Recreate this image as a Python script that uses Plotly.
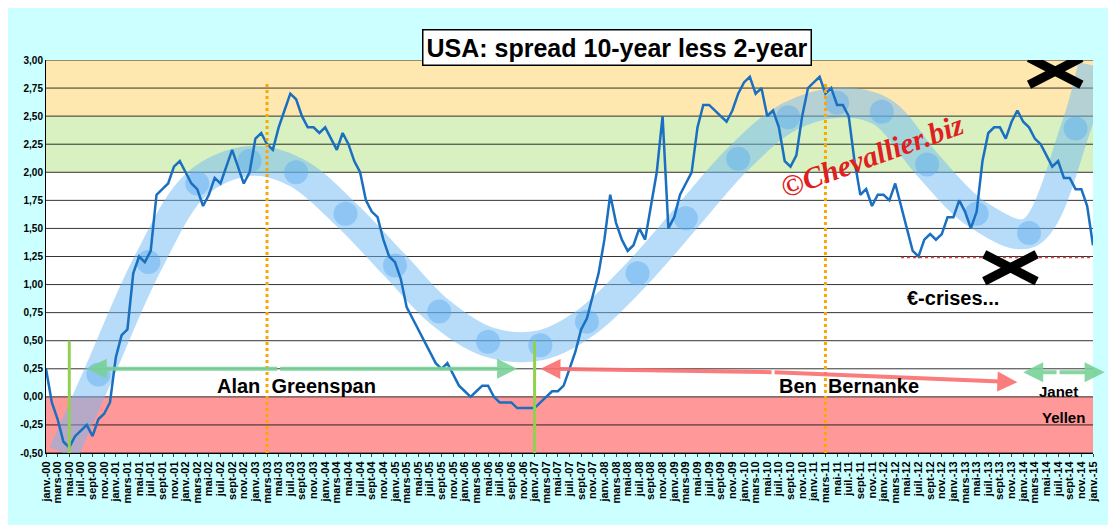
import plotly.graph_objects as go

months = ["janv.", "mars", "mai", "juil.", "sept", "nov."]
tick_vals = list(range(0, 181, 2))
tick_text = ["%s-%02d" % (months[(m // 2) % 6], m // 12) for m in tick_vals]

spread = [
    0.25, -0.05, -0.2, -0.4, -0.45, -0.35, -0.3, -0.25, -0.35, -0.2, -0.15, -0.05,
    0.35, 0.55, 0.6, 1.1, 1.25, 1.2, 1.3, 1.8, 1.85, 1.9, 2.05, 2.1,
    2.0, 1.9, 1.85, 1.7, 1.8, 1.95, 1.9, 2.05, 2.2, 2.05, 1.9, 2.0,
    2.3, 2.35, 2.25, 2.2, 2.4, 2.55, 2.7, 2.65, 2.5, 2.4, 2.4, 2.35,
    2.4, 2.3, 2.2, 2.35, 2.25, 2.1, 2.0, 1.75, 1.65, 1.6, 1.4, 1.25,
    1.2, 1.05, 0.8, 0.7, 0.6, 0.5, 0.4, 0.3, 0.25, 0.3, 0.2, 0.1,
    0.05, 0.0, 0.05, 0.1, 0.1, 0.0, -0.05, -0.05, -0.05, -0.1, -0.1, -0.1,
    -0.1, -0.05, 0.0, 0.05, 0.05, 0.1, 0.25, 0.4, 0.6, 0.7, 0.9, 1.1,
    1.4, 1.8, 1.55, 1.4, 1.3, 1.35, 1.5, 1.4, 1.7, 2.0, 2.5, 1.5,
    1.6, 1.8, 1.9, 2.0, 2.4, 2.6, 2.6, 2.55, 2.5, 2.45, 2.55, 2.7,
    2.8, 2.85, 2.7, 2.75, 2.5, 2.55, 2.4, 2.1, 2.05, 2.15, 2.5, 2.75,
    2.8, 2.85, 2.7, 2.75, 2.6, 2.6, 2.5, 2.1, 1.8, 1.85, 1.7, 1.8,
    1.8, 1.75, 1.9, 1.7, 1.5, 1.3, 1.25, 1.4, 1.45, 1.4, 1.45, 1.6,
    1.6, 1.75, 1.65, 1.5, 1.65, 2.1, 2.35, 2.4, 2.4, 2.3, 2.45, 2.55,
    2.45, 2.4, 2.3, 2.25, 2.15, 2.05, 2.1, 1.95, 1.95, 1.85, 1.85, 1.7,
    1.35,
]
month_idx = list(range(len(spread)))

# hand-drawn "cycle" band
cycle_x = [3, 9, 17.6, 26, 35, 43, 51.5, 60, 67.6, 76, 85, 93, 101.7, 110, 119, 127.6, 136, 143.7, 151.5, 160, 169, 177, 180]
cycle_y = [-0.5, 0.2, 1.2, 1.9, 2.1, 2.0, 1.63, 1.17, 0.76, 0.49, 0.46, 0.67, 1.1, 1.59, 2.12, 2.49, 2.62, 2.54, 2.07, 1.63, 1.46, 2.39, 2.95]

fig = go.Figure()
fig.add_trace(go.Scatter(x=cycle_x, y=cycle_y, mode="lines", line=dict(shape="spline", width=30, color="rgba(110,185,245,0.5)"), hoverinfo="skip"))
fig.add_trace(go.Scatter(x=cycle_x[1:-1], y=cycle_y[1:-1], mode="markers", marker=dict(size=24, color="rgba(90,170,240,0.45)"), hoverinfo="skip"))
fig.add_trace(go.Scatter(x=month_idx, y=spread, mode="lines", line=dict(color="#1a6fc0", width=2.5)))

bands = [(-0.5, 0, "#ff9999"), (2.0, 2.5, "#d9f0c0"), (2.5, 3.0, "#ffe8b0")]
for y0, y1, c in bands:
    fig.add_shape(type="rect", xref="paper", x0=0, x1=1, y0=y0, y1=y1, fillcolor=c, line_width=0, layer="below")
for k in range(-2, 13):
    fig.add_shape(type="line", xref="paper", x0=0, x1=1, y0=k * 0.25, y1=k * 0.25, line=dict(color="black", width=0.8), layer="below")

for xm in [4, 84]:
    fig.add_shape(type="line", x0=xm, x1=xm, y0=-0.5, y1=0.5, line=dict(color="#92d050", width=3))
for xm in [38, 134]:
    fig.add_shape(type="line", x0=xm, x1=xm, y0=-0.5, y1=2.8, line=dict(color="#ffa500", width=3, dash="dot"))
fig.add_shape(type="line", x0=147, x1=180, y0=1.24, y1=1.24, line=dict(color="#e04040", width=1.5, dash="dot"))

# black crosses
for cx, cy in [(173.5, 2.9), (165.8, 1.15)]:
    for s in (1, -1):
        fig.add_shape(type="line", x0=cx - 4.5, x1=cx + 4.5, y0=cy - s * 0.12, y1=cy + s * 0.12, line=dict(color="black", width=9))

def arrow(x0, y0, x1, y1, color, w=4):
    fig.add_annotation(x=x1, y=y1, ax=x0, ay=y0, xref="x", yref="y", axref="x", ayref="y", text="", showarrow=True, arrowhead=2, arrowsize=1, arrowwidth=w, arrowcolor=color)

green = "rgba(120,210,150,0.9)"
red = "rgba(250,110,110,0.9)"
for a, b in [(40, 7), (40, 81)]:
    arrow(a, 0.25, b, 0.25, green)
arrow(125, 0.22, 85, 0.25, red)
arrow(125, 0.22, 167, 0.13, red)
arrow(174, 0.22, 168, 0.22, green)
arrow(174, 0.22, 182, 0.22, green)
arrow(180.2, 2.65, 180.2, 1.75, "black", 3)

def text(x, y, s, size=20, **kw):
    fig.add_annotation(x=x, y=y, text=s, showarrow=False, font=dict(family="Arial", size=size, color="black", **kw))

text(43, 0.1, "<b>Alan  Greenspan</b>")
text(138, 0.1, "<b>Ben  Bernanke</b>")
text(174, 0.05, "<b>Janet</b>", 15)
text(175, -0.18, "<b>Yellen</b>", 15)
text(156, 0.88, "<b>€-crises...</b>")
fig.add_annotation(x=142, y=2.15, text="<i><b>©Chevallier.biz</b></i>", showarrow=False, textangle=-20, font=dict(family="Times New Roman", size=30, color="#e02020"))
fig.add_annotation(xref="paper", yref="paper", x=0.545, y=1.08, text="<b>USA: spread 10-year less 2-year</b>", showarrow=False, bgcolor="white", bordercolor="black", borderwidth=1.5, borderpad=3, font=dict(family="Arial", size=25, color="black"))

fig.update_layout(
    width=1116, height=525, showlegend=False,
    paper_bgcolor="#ccffff", plot_bgcolor="white",
    margin=dict(l=34, r=31, t=52, b=80),
    xaxis=dict(range=[0, 180], tickvals=tick_vals, ticktext=["<b>%s</b>" % t for t in tick_text], tickangle=-90, showgrid=False, zeroline=False,
               ticks="outside", ticklen=3, tickfont=dict(family="Arial", size=11, color="black"), showline=True, linecolor="black"),
    yaxis=dict(range=[-0.5, 3.0], tickvals=[k * 0.25 for k in range(-2, 13)],
               ticktext=["<b>%s</b>" % ("%.2f" % (k * 0.25)).replace(".", ",") for k in range(-2, 13)],
               showgrid=False, zeroline=False, showline=True, linecolor="black",
               tickfont=dict(family="Arial", size=10, color="black")),
)
fig.write_html("out.html")
